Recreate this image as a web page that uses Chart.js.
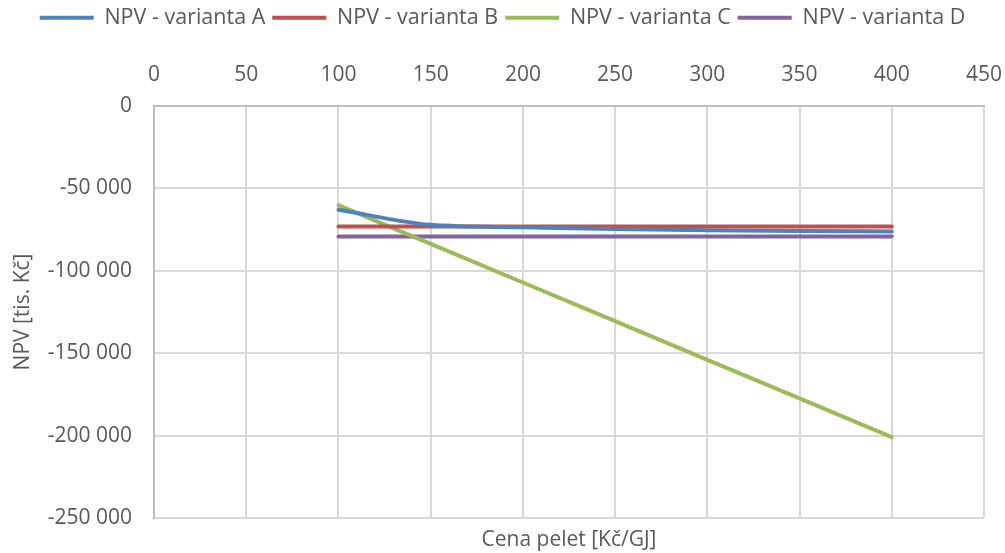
<!DOCTYPE html>
<html>
<head>
<meta charset="utf-8">
<script src="https://cdn.jsdelivr.net/npm/chart.js@4/dist/chart.umd.min.js"></script>
<style>
  html, body { margin: 0; padding: 0; background: #ffffff; }
  #wrap { width: 1005px; height: 553px; position: relative; }
</style>
</head>
<body>
<div id="wrap"><canvas id="npv"></canvas></div>
<script>
// Cena pelet [Kč/GJ]
const prices = [100, 150, 200, 250, 300, 350, 400];

// NPV [tis. Kč] for each variant
const npvA = [-63000, -72100, -73600, -74700, -75400, -75900, -76100];
const npvB = [-73100, -73100, -73100, -73100, -73100, -73100, -73100];
const npvC = [-60200, -83650, -107100, -130550, -154000, -177450, -200900];
const npvD = [-79200, -79200, -79200, -79200, -79200, -79200, -79200];

const seriesNames = ['NPV - varianta A', 'NPV - varianta B', 'NPV - varianta C', 'NPV - varianta D'];
const seriesColors = ['#4f81bd', '#c0504d', '#9bbb59', '#8064a2'];

const xTicksMin = 0, xTicksMax = 450, xStep = 50;
const yTicksMin = -250000, yTicksMax = 0, yStep = 50000;

const FONT = "'Open Sans', 'Noto Sans', sans-serif";
const TEXT = '#595959';

function toPoints(values) {
  return prices.map((p, i) => ({ x: p, y: values[i] }));
}

function formatThousands(v) {
  const s = String(Math.abs(v)).replace(/\B(?=(\d{3})+(?!\d))/g, ' ');
  return (v < 0 ? '-' : '') + s;
}

const datasets = [npvA, npvB, npvC, npvD].map((vals, i) => ({
  label: seriesNames[i],
  data: toPoints(vals),
  borderColor: seriesColors[i],
  backgroundColor: seriesColors[i],
  borderWidth: 4,
  borderCapStyle: 'round',
  borderJoinStyle: 'round',
  pointRadius: 0,
  pointHoverRadius: 0,
  cubicInterpolationMode: 'monotone',
  fill: false
}));

new Chart(document.getElementById('npv'), {
  type: 'line',
  data: { datasets },
  options: {
    responsive: true,
    maintainAspectRatio: false,
    animation: false,
    layout: { padding: 0 },
    plugins: {
      tooltip: { enabled: false },
      legend: {
        position: 'top',
        align: 'center',
        labels: {
          usePointStyle: true,
          pointStyle: 'line',
          pointStyleWidth: 54,
          padding: 7,
          color: TEXT,
          font: { family: FONT, size: 21.5 }
        }
      }
    },
    scales: {
      x: {
        type: 'linear',
        position: 'top',
        min: xTicksMin,
        max: xTicksMax,
        afterFit: (axis) => {
          const lg = axis.chart.legend;
          axis.height = 106 - (lg ? lg.height : 41);
          // keep a fixed white margin on the right of the plot
          axis.paddingLeft = 0;
          axis.paddingRight = 21;
        },
        ticks: {
          stepSize: xStep,
          autoSkip: false,
          maxRotation: 0,
          padding: 18,
          color: TEXT,
          font: { family: FONT, size: 21 }
        },
        grid: { color: '#d9d9d9', lineWidth: 2, drawTicks: false },
        border: { color: '#bfbfbf', width: 2 }
      },
      xTitle: {
        type: 'linear',
        position: 'bottom',
        min: xTicksMin,
        max: xTicksMax,
        afterFit: (axis) => {
          axis.height = 35;
          axis.paddingLeft = 0;
          axis.paddingRight = 0;
        },
        ticks: { display: false },
        grid: { display: false, drawTicks: false },
        border: { display: false },
        title: {
          display: true,
          text: 'Cena pelet [Kč/GJ]',
          color: TEXT,
          font: { family: FONT, size: 21 },
          padding: { top: 0, bottom: 0 }
        }
      },
      y: {
        type: 'linear',
        position: 'left',
        min: yTicksMin,
        max: yTicksMax,
        afterFit: (axis) => { axis.width = 154; },
        ticks: {
          stepSize: yStep,
          padding: 22,
          color: TEXT,
          font: { family: FONT, size: 21 },
          callback: (v) => formatThousands(v)
        },
        grid: { color: '#d9d9d9', lineWidth: 2, drawTicks: false },
        border: { color: '#bfbfbf', width: 2 },
        title: {
          display: true,
          text: 'NPV [tis. Kč]',
          color: TEXT,
          font: { family: FONT, size: 21 },
          padding: { top: 10, bottom: 0 }
        }
      }
    }
  }
});
</script>
</body>
</html>
